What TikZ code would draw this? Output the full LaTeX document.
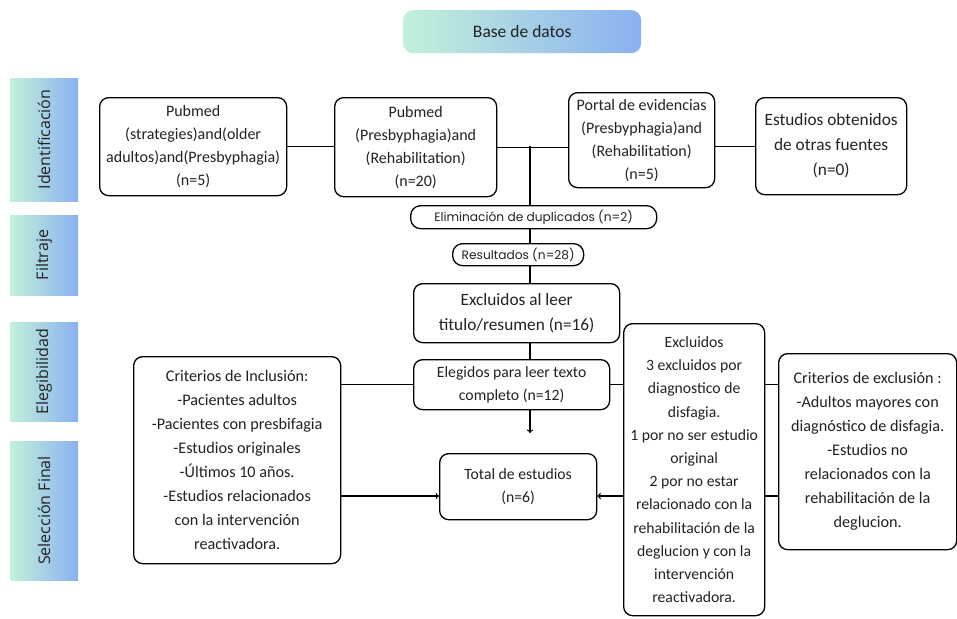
\documentclass[tikz,border=0pt]{standalone}
\usepackage{fontspec}
\setmainfont{Carlito}
\newfontfamily\popfont{Poppins}
\newfontfamily\opfont{Open Sans}
\usetikzlibrary{shapes,arrows,positioning,backgrounds,calc}
\definecolor{mint}{RGB}{194, 241, 217}
\definecolor{sky}{RGB}{138, 176, 241}
\definecolor{ink}{RGB}{34, 34, 34}
\tikzstyle{a}=[anchor=north west]
\tikzstyle{node}=[a,draw,line width=1.3pt,rounded corners=9pt,align=center,fill=white,text=ink,inner sep=1pt]
\tikzstyle{small}=[font=\fontsize{16}{23}\selectfont]
\tikzstyle{mid}=[font=\fontsize{15.7}{23.2}\selectfont]
\tikzstyle{list}=[font=\fontsize{16.2}{24}\selectfont]
\tikzstyle{big}=[font=\fontsize{17.3}{25}\selectfont]
\tikzstyle{pill}=[node,rounded corners=10pt,font=\popfont\fontsize{12.2}{14}\selectfont]
\tikzstyle{stage}=[rotate=90,left color=mint,right color=sky,minimum height=68pt,text=ink,font=\opfont\fontsize{16}{18}\selectfont]
\tikzstyle{line}=[draw,line width=1.3pt]
\tikzstyle{arrow}=[line,-to]

\begin{document}
\begin{tikzpicture}[x=1pt,y=-1pt]
%    \draw[step=10,gray,thin] (0,0) grid (957,618);
    \useasboundingbox (0,0) rectangle (957,618);

    \node[a,left color=mint,right color=sky,rounded corners=10pt,minimum width=238pt,minimum height=43pt,text=ink,font=\fontsize{17.5}{20}\selectfont] at (403,10) (base) {Base de datos};

    \node[stage,minimum width=123pt] at (44,139.5) (ident) {Identificación};
    \node[stage,minimum width=80pt] at (44,255) (filt) {Filtraje};
    \node[stage,minimum width=99pt] at (44,371.5) (eleg-stage) {Elegibilidad};
    \node[stage,minimum width=139pt] at (44,510.5) (sel) {Selección Final};

    \node[node,small,minimum width=187pt,minimum height=98pt] at (99,97) (pubA) {Pubmed\\(strategies)and(older\\adultos)and(Presbyphagia)\\(n=5)};
    \node[node,small,minimum width=162pt,minimum height=99pt] at (334,97) (pubB) {Pubmed\\(Presbyphagia)and\\(Rehabilitation)\\(n=20)};
    \node[node,small,minimum width=146pt,minimum height=95pt] at (568,92) (portal) {Portal de evidencias\\(Presbyphagia)and\\(Rehabilitation)\\(n=5)};
    \node[node,big,minimum width=151pt,minimum height=97pt] at (755,97) (otras) {Estudios obtenidos\\de otras fuentes\\(n=0)};

    \node[pill,minimum width=246pt,minimum height=23pt] at (410,205) (elim) {Eliminación de duplicados (n=2)};
    \node[pill,minimum width=131pt,minimum height=22pt] at (452,243) (res) {Resultados (n=28)};
    \node[node,big,minimum width=206pt,minimum height=59pt] at (413,283) (exleer) {Excluidos al leer\\titulo/resumen (n=16)};
    \node[node,mid,minimum width=196pt,minimum height=50pt] at (413,359) (eleg) {Elegidos para leer texto\\completo (n=12)};
    \node[node,mid,minimum width=157pt,minimum height=66pt] at (439,453) (total) {Total de estudios\\(n=6)};

    \node[node,list,minimum width=207pt,minimum height=207pt] at (133,356) (incl) {Criterios de Inclusión:\\-Pacientes adultos\\-Pacientes con presbifagia\\-Estudios originales\\-Últimos 10 años.\\-Estudios relacionados\\con la intervención\\reactivadora.};
    \node[node,mid,minimum width=141pt,minimum height=292pt] at (623,323) (excl) {Excluidos\\3 excluidos por\\diagnostico de\\disfagia.\\1 por no ser estudio\\original\\2 por no estar\\relacionado con la\\rehabilitación de la\\deglucion y con la\\intervención\\reactivadora.};
    \node[node,list,minimum width=178pt,minimum height=196pt] at (778,353) (critex) {Criterios de exclusión :\\-Adultos mayores con\\diagnóstico de disfagia.\\-Estudios no\\relacionados con la\\rehabilitación de la\\deglucion.};

    \coordinate (join) at (530,146);
    \coordinate (mid) at (530,496);
    \coordinate (stop) at (530,433);

    \draw[line] (pubA.east) -- (pubA.east -| pubB.west);
    \draw[line] (pubB.east) -- (pubB.east -| portal.west);
    \draw[line] (portal.east |- otras.west) -- (otras.west);
    \draw[line] (join) -- (join |- elim.north);
    \draw[line] (join |- elim.south) -- (join |- res.north);
    \draw[line] (join |- res.south) -- (join |- exleer.north);
    \draw[line] (join |- exleer.south) -- (join |- eleg.north);
    \draw[arrow] (join |- eleg.south) -- (stop);

    \draw[line] (eleg.west) -- (eleg.west -| incl.east);
    \draw[arrow] (incl.east |- mid) -- (total.west |- mid);
    \draw[line] (eleg.east) -- (eleg.east -| excl.west);
    \draw[arrow] (excl.west |- mid) -- (total.east |- mid);
    \draw[line] (excl.east |- eleg.east) -- (critex.west |- eleg.east);
    \draw[line] (excl.east |- mid) -- (critex.west |- mid);
\end{tikzpicture}
\end{document}
